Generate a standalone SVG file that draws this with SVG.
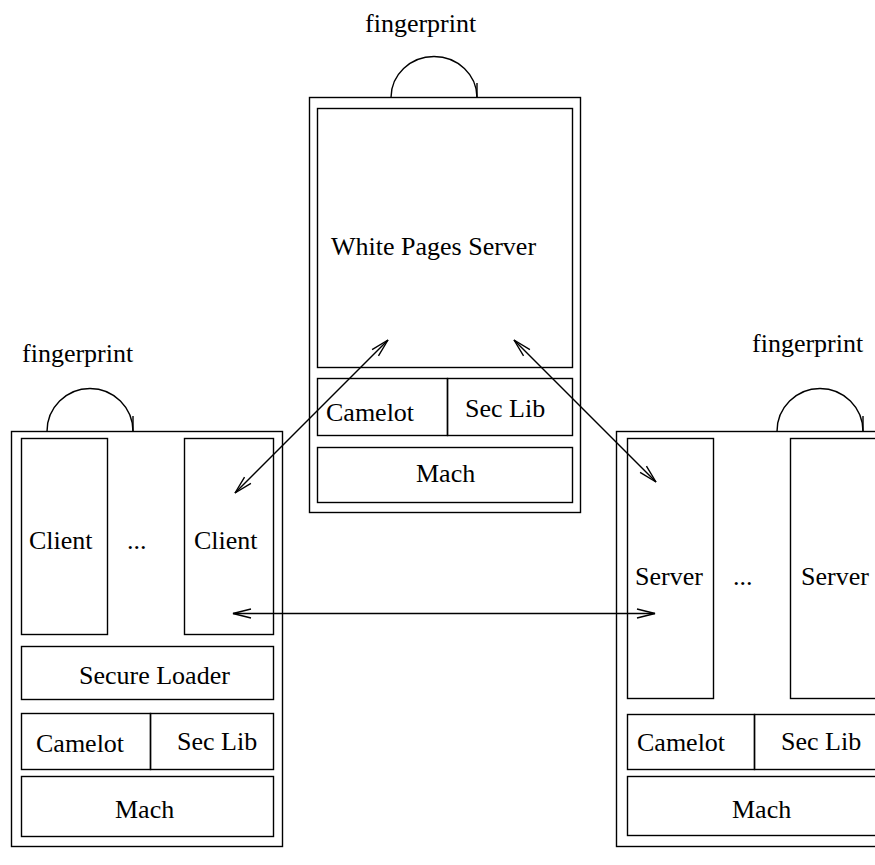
<svg xmlns="http://www.w3.org/2000/svg" width="875" height="865" viewBox="0 0 875 865">
<style>
rect, line, path { fill: none; stroke: #000; stroke-width: 1.4; }
text { font-family: "Liberation Serif", "Tinos", "Times New Roman", Times, "DejaVu Serif", serif; font-size: 26px; fill: #000; }
</style>
<defs>
<marker id="arr" viewBox="-20 -6 22 12" refX="0" refY="0" markerWidth="22" markerHeight="12" markerUnits="userSpaceOnUse" orient="auto-start-reverse">
<path d="M-18,-4.5 L0,0 L-18,4.5" style="stroke:#000;stroke-width:1.4;fill:none"/>
</marker>
</defs>
<rect width="875" height="865" style="fill:#fff;stroke:none"/>

<g id="wp-machine">
<rect x="309.5" y="97.5" width="271" height="415"/>
<g id="wp-server"><rect x="317.5" y="108.5" width="255" height="259"/><text x="331" y="255">White Pages Server</text></g>
<g id="wp-camelot"><rect x="317.5" y="378.5" width="130" height="57"/><text x="326" y="421">Camelot</text></g>
<g id="wp-seclib"><rect x="447.5" y="378.5" width="125" height="57"/><text x="465" y="417">Sec Lib</text></g>
<g id="wp-mach"><rect x="317.5" y="447.5" width="255" height="55"/><text x="416" y="482">Mach</text></g>
<g id="wp-fingerprint"><path d="M391,97.5 A43,41 0 0 1 477,97.5"/><line x1="477" y1="83" x2="477" y2="98"/><text x="365" y="32">fingerprint</text></g>
</g>

<g id="client-machine">
<rect x="11.5" y="431.5" width="271" height="415"/>
<g id="client1"><rect x="21.5" y="438.5" width="86" height="196"/><text x="29" y="549">Client</text></g>
<g id="client-dots"><text x="127" y="549">...</text></g>
<g id="client2"><rect x="184.5" y="438.5" width="89" height="196"/><text x="194" y="549">Client</text></g>
<g id="secure-loader"><rect x="21.5" y="646.5" width="252" height="53"/><text x="79" y="684">Secure Loader</text></g>
<g id="c-camelot"><rect x="21.5" y="713.5" width="129" height="56"/><text x="36" y="752">Camelot</text></g>
<g id="c-seclib"><rect x="150.5" y="713.5" width="123" height="56"/><text x="177" y="750">Sec Lib</text></g>
<g id="c-mach"><rect x="21.5" y="776.5" width="252" height="60"/><text x="115" y="818">Mach</text></g>
<g id="c-fingerprint"><path d="M47,431.5 A43,43 0 0 1 133,431.5"/><line x1="133" y1="416" x2="133" y2="432"/><text x="22" y="362">fingerprint</text></g>
</g>

<g id="server-machine">
<rect x="616.5" y="431.5" width="271" height="415"/>
<g id="server1"><rect x="627.5" y="438.5" width="86" height="260"/><text x="635" y="585">Server</text></g>
<g id="server-dots"><text x="733" y="585">...</text></g>
<g id="server2"><rect x="790.5" y="438.5" width="89" height="260"/><text x="801" y="585">Server</text></g>
<g id="s-camelot"><rect x="627.5" y="714.5" width="127" height="55"/><text x="637" y="751">Camelot</text></g>
<g id="s-seclib"><rect x="754.5" y="714.5" width="125" height="55"/><text x="781" y="750">Sec Lib</text></g>
<g id="s-mach"><rect x="627.5" y="776.5" width="252" height="59"/><text x="732" y="818">Mach</text></g>
<g id="s-fingerprint"><path d="M777,431.5 A43,43 0 0 1 863,431.5"/><line x1="863" y1="416" x2="863" y2="432"/><text x="752" y="352">fingerprint</text></g>
</g>

<g id="connectors">
<line x1="388" y1="340" x2="235" y2="493" marker-start="url(#arr)" marker-end="url(#arr)"/>
<line x1="514" y1="340" x2="656" y2="482" marker-start="url(#arr)" marker-end="url(#arr)"/>
<line x1="233" y1="613.5" x2="655" y2="613.5" marker-start="url(#arr)" marker-end="url(#arr)"/>
</g>
</svg>
